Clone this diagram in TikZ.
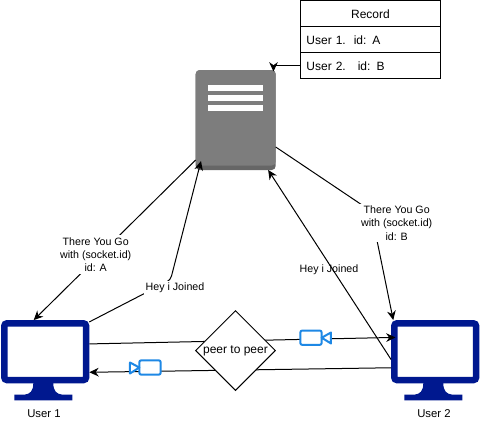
\documentclass[tikz,border=0pt]{standalone}
\usepackage{fontspec}
\setmainfont{Liberation Sans}
\usepackage{xcolor}
\usetikzlibrary{arrows.meta, positioning, shapes.geometric}
\definecolor{mynavy}{RGB}{0, 24, 143}
\definecolor{myface}{RGB}{125, 125, 125}
\definecolor{myband}{RGB}{102, 102, 102}
\definecolor{mycam}{RGB}{30, 136, 229}

\begin{document}
\begin{tikzpicture}[x=0.75pt,y=-0.75pt,
    rowbox/.style={draw,minimum width=105pt,minimum height=19.5pt,outer sep=0pt,
                   inner xsep=4.5pt,text width=96pt,text height=7.5pt,text depth=0pt,
                   font=\fontsize{9}{11}\selectfont},
    conn/.style={line width=0.75pt},
    connhead/.style={conn,-{Stealth[length=7pt,width=6.5pt]}},
    msg/.style={align=center,inner sep=1.5pt,font=\fontsize{8}{9.9}\selectfont},
    whitemsg/.style={msg,fill=white},
    monitor/.style={draw=mynavy,line width=4.9pt,fill=white,rounded corners=2pt,
                    minimum width=61.3pt,minimum height=42.5pt},
    camera/.style={draw=mycam,line width=1.5pt,fill=white,rounded corners=1.5pt,
                   minimum width=16pt,minimum height=10.8pt,inner sep=0pt,outer sep=0pt},
    lens/.style={draw=mycam,line width=1.5pt,fill=white,line join=round},
    stand/.pic={
      \fill[mynavy] (-10,0) .. controls (-10,8) and (-13,11) .. (-19,11.7)
        -- (-29,11.7) -- (-29,17.3) -- (29,17.3) -- (29,11.7) -- (19,11.7)
        .. controls (13,11) and (10,8) .. (10,0) -- cycle;
    }]
  \useasboundingbox (0,0) rectangle (480,422);

  \node[rowbox,align=center](record) at (370.5,13.5) {Record};
  \node[rowbox,align=left,below=0pt of record](rowa) {User 1.~~id: A};
  \node[rowbox,align=left,below=0pt of rowa](rowb) {User 2.~~~id: B};

  \node[fill=myband,rounded corners=3pt,minimum width=60pt,minimum height=75pt,
        inner sep=0pt,outer sep=0pt](server) at (235.7,120) {};
  \fill[myface,rounded corners=3pt] (server.north west) rectangle (275.7,165.5);
  \fill[white] (208,84.5) rectangle (263,90.5);
  \fill[white] (208,95) rectangle (263,101);
  \fill[white] (208,105) rectangle (263,111);

  \pic at (43.3,383) {stand};
  \pic at (433.3,383) {stand};
  \node[monitor](usera) at (45.2,351.7) {};
  \node[monitor](userb) at (435.2,351.7) {};
  \node[msg,font=\fontsize{8.5}{10}\selectfont](labela) at (44,414) {User 1};
  \node[msg,font=\fontsize{8.5}{10}\selectfont](labelb) at (434,413.5) {User 2};

  \coordinate (tiprec) at (273.5,71.5);
  \coordinate (tipjoin) at (201,161);
  \coordinate (bendjoin) at (170.5,280);
  \coordinate (bendb) at (371,211);
  \coordinate (tipcam) at (395.5,337.4);

  \draw[connhead](rowb.west)-|(tiprec);
  \draw[connhead](server.225)--(usera.110.7);
  \draw[connhead,rounded corners=3pt](usera.34.6)--(bendjoin)--(tipjoin);
  \draw[connhead](server.-34)--(bendb)--(userb.143.6);
  \draw[connhead](userb.190.6)--(server.-57.5);
  \draw[connhead](usera.10.8)--(tipcam);
  \draw[connhead](userb.200.8)--(usera.-25.2);

  \node[whitemsg](goa) at (95.7,254.5) {There You Go\\with (socket.id)\\id: A};
  \node[whitemsg](gob) at (396.7,223) {There You Go\\with (socket.id)\\id: B};
  \node[whitemsg](joina) at (175,288) {Hey i Joined};
  \node[msg](joinb) at (329,270) {Hey i Joined};

  \node[diamond,draw,fill=white,aspect=1,inner sep=0pt,minimum size=60pt,
        line width=0.75pt,font=\fontsize{9}{11}\selectfont](peer) at (235.5,350.5) {peer to peer};

  \node[camera](camb) at (311,337.7) {};
  \draw[lens](camb.east)--(331,332.5)--(331,343.5)--cycle;
  \node[camera](cama) at (150,367.5) {};
  \draw[lens](cama.west)--(130,362.5)--(130,373.5)--cycle;
\end{tikzpicture}
\end{document}
